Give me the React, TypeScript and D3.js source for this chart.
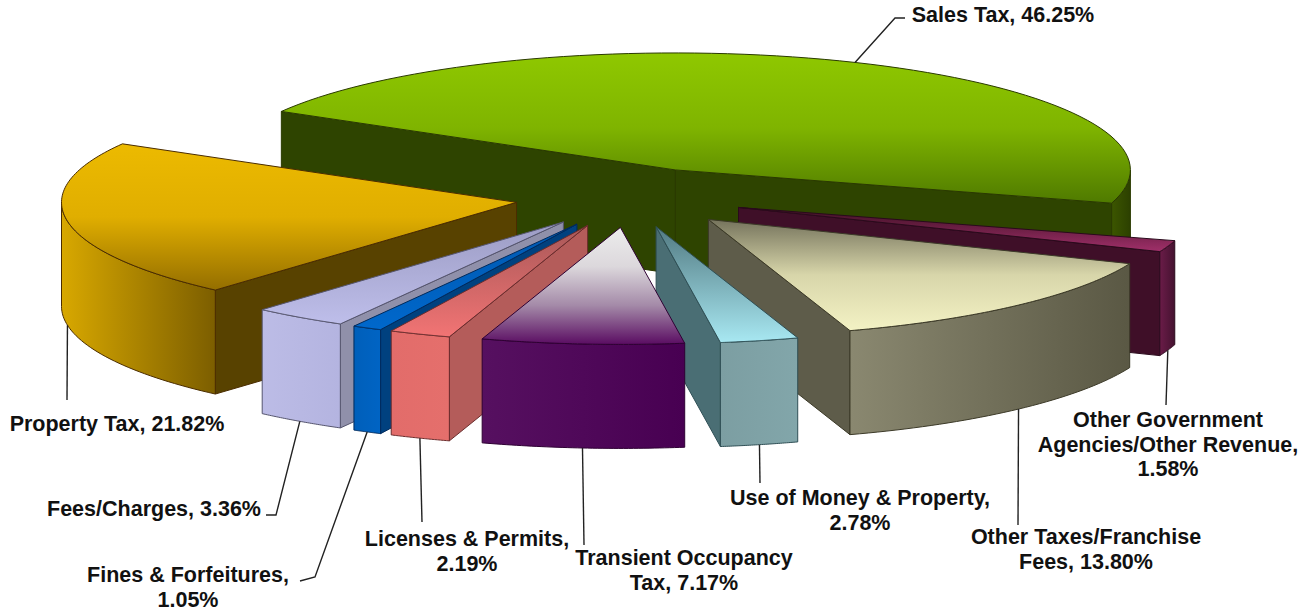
import React, { useEffect, useRef } from 'react';
import * as d3 from 'd3';

const categories = [
  'Sales Tax',
  'Other Government Agencies/Other Revenue',
  'Other Taxes/Franchise Fees',
  'Use of Money & Property',
  'Transient Occupancy Tax',
  'Licenses & Permits',
  'Fines & Forfeitures',
  'Fees/Charges',
  'Property Tax',
];
const shares = [46.25, 1.58, 13.8, 2.78, 7.17, 2.19, 1.05, 3.36, 21.82];

// top = back to front of lid, face = outer wall left to right, wall = cut faces
const topColors = [
  ['#8fc800', '#7fb400', '#4f7a00'], ['#3c0f22', '#a0306a'], ['#75735c', '#d8d6aa', '#f3f2c4'],
  ['#527a82', '#a8e8f2'], ['#ececec', '#dcd8dc', '#a48aa8', '#5a0c62'], ['#a85858', '#f27474'],
  ['#0058b0', '#0068cc'], ['#9c9cc4', '#bebeea'], ['#ecba00', '#e0ae00', '#946e00'],
];
const faceColors = [
  ['#3c5600', '#2c4000'], ['#6a1c48', '#451230'], ['#8a8870', '#5a5844'],
  ['#7c9ea2', '#82a6aa'], ['#561060', '#480052'], ['#e26c6a', '#e56f6c'],
  ['#005fba', '#0064c4'], ['#bcbce6', '#b4b4e0'], ['#d8a800', '#7c5e00'],
];
const wallColors = ['#2e4400', '#3f0f28', '#5e5c4a', '#4a6e74', '#4c0050', '#b45c5a', '#00417f', '#9090aa', '#584200'];
const edgeColors = ['#2a3a00', '#2a0a1c', '#3c3a28', '#2f4f55', '#2e0033', '#6a2c2c', '#002a5c', '#55556e', '#4a2c00'];

const labelLines = [
  ['Sales Tax, 46.25%'],
  ['Other Government', 'Agencies/Other Revenue,', '1.58%'],
  ['Other Taxes/Franchise', 'Fees, 13.80%'],
  ['Use of Money & Property,', '2.78%'],
  ['Transient Occupancy', 'Tax, 7.17%'],
  ['Licenses & Permits,', '2.19%'],
  ['Fines & Forfeitures,', '1.05%'],
  ['Fees/Charges, 3.36%'],
  ['Property Tax, 21.82%'],
];
const labelPos = [
  [1003, 22], [1168, 427], [1086, 544], [860, 505], [684, 565], [467, 546], [188, 582], [154, 516], [117, 431],
];
const leaderTails = [
  [[895, 18], [905, 18]], [[1166, 405]], [[1018, 525]], [[760, 483]], [[584, 545]], [[422, 522]],
  [[315, 577], [300, 581]], [[276, 515], [266, 515]], [[67, 400]],
];

const W = 1312, H = 613;
const cx = 630, cy = 197.5;
const rx = 455, ry = 117;
const depth = 104;
const explodeX = 115, explodeY = 30;
const deg = Math.PI / 180;

function App() {
  const ref = useRef(null);

  useEffect(() => {
    const svg = d3.select(ref.current);
    svg.selectAll('*').remove();

    const pie = d3.pie().sort(null).startAngle(-60 * deg).endAngle(300 * deg);
    const arcs = pie(shares).map((a, i) => ({ ...a, i, mid: (a.startAngle + a.endAngle) / 2 }));
    const line = d3.line();
    const defs = svg.append('defs');

    const grad = (id, colors, vertical) => {
      const g = defs.append('linearGradient').attr('id', id)
        .attr('x1', 0).attr('y1', 0).attr('x2', vertical ? 0 : 1).attr('y2', vertical ? 1 : 0);
      colors.forEach((c, k) => {
        g.append('stop').attr('offset', k / (colors.length - 1)).attr('stop-color', c);
      });
    };

    const origin = d => [cx + explodeX * Math.sin(d.mid), cy - explodeY * Math.cos(d.mid)];
    const rim = (d, t) => {
      const [ox, oy] = origin(d);
      return [ox + rx * Math.sin(t), oy - ry * Math.cos(t)];
    };
    const down = p => [p[0], p[1] + depth];

    // a cut face can be seen only when the lid lies above its edge
    const wallVisible = (d, t) => {
      const ex = Math.sin(t) * rx, ey = -Math.cos(t) * ry;
      const mx = Math.sin(d.mid) * rx, my = -Math.cos(d.mid) * ry;
      return my < (ey / ex) * mx;
    };

    // back slices first
    const order = [...arcs].sort((a, b) => Math.cos(b.mid) - Math.cos(a.mid));

    order.forEach(d => {
      const g = svg.append('g');
      const stroke = edgeColors[d.i];
      grad(`top${d.i}`, topColors[d.i], true);
      grad(`face${d.i}`, faceColors[d.i], false);

      const apex = origin(d);
      [d.startAngle, d.endAngle].forEach(t => {
        if (!wallVisible(d, t)) return;
        const p = rim(d, t);
        g.append('path')
          .attr('d', line([apex, p, down(p), down(apex)]) + 'Z')
          .attr('fill', wallColors[d.i])
          .attr('stroke', stroke);
      });

      // front part of the outer wall, between 90 and 270 degrees
      const a0 = Math.max(d.startAngle, 90 * deg), a1 = Math.min(d.endAngle, 270 * deg);
      if (a1 > a0) {
        const top = d3.range(0, 41).map(k => rim(d, a0 + (a1 - a0) * k / 40));
        g.append('path')
          .attr('d', line([...top, ...top.map(down).reverse()]) + 'Z')
          .attr('fill', `url(#face${d.i})`)
          .attr('stroke', stroke);
      }

      const lid = d3.range(0, 81).map(k => rim(d, d.startAngle + (d.endAngle - d.startAngle) * k / 80));
      g.append('path')
        .attr('d', line([apex, ...lid]) + 'Z')
        .attr('fill', `url(#top${d.i})`)
        .attr('stroke', stroke);
    });

    // leaders start at the middle of each slice's rim
    arcs.forEach(d => {
      const p = rim(d, d.mid);
      const start = d.i === 0 ? p : down(p);
      svg.append('path')
        .attr('d', line([start, ...leaderTails[d.i]]))
        .attr('fill', 'none')
        .attr('stroke', '#222')
        .attr('stroke-width', 1.4);

      const text = svg.append('text')
        .attr('text-anchor', 'middle')
        .attr('font-family', '"Liberation Sans", Arial, sans-serif')
        .attr('font-weight', 700)
        .attr('font-size', 21.5)
        .attr('fill', '#111');
      labelLines[d.i].forEach((s, k) => {
        text.append('tspan')
          .attr('x', labelPos[d.i][0])
          .attr('y', labelPos[d.i][1] + k * 24.5)
          .text(s);
      });
    });
  }, []);

  return (
    <svg
      ref={ref}
      width={W}
      height={H}
      role="img"
      aria-label={categories.join(', ')}
      style={{ position: 'absolute', left: 0, top: 0, background: '#fff' }}
    />
  );
}

export default App;
